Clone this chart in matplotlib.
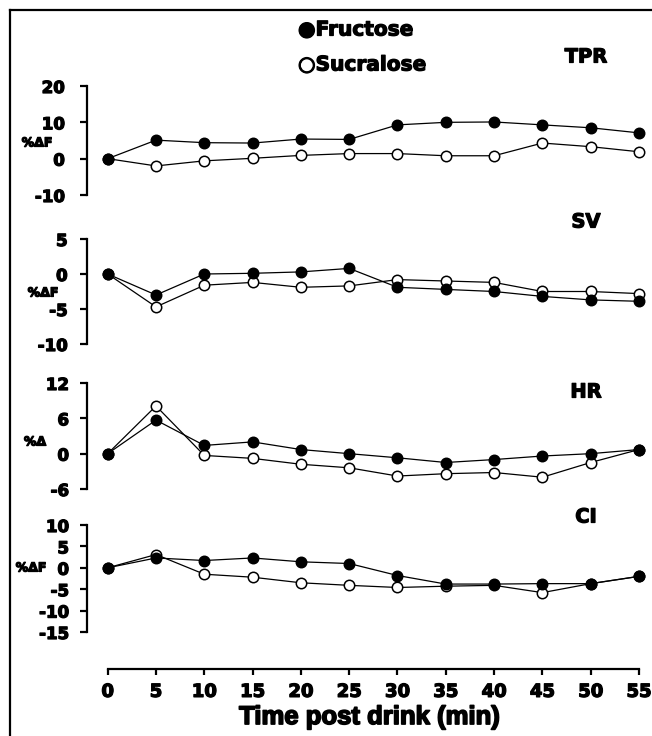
import matplotlib
matplotlib.use("Agg")
import matplotlib.pyplot as plt
import matplotlib.patheffects as pe
from matplotlib.lines import Line2D

plt.rcParams['font.family'] = ['DejaVu Sans']
plt.rcParams['font.weight'] = 'bold'
plt.rcParams['axes.unicode_minus'] = False

# % change from baseline after each drink
minutes = [0, 5, 10, 15, 20, 25, 30, 35, 40, 45, 50, 55]

tpr_fru = [0, 5.1, 4.4, 4.3, 5.4, 5.3, 9.3, 10.0, 10.1, 9.3, 8.5, 7.1]
tpr_suc = [0, -2.0, -0.6, 0.1, 0.9, 1.4, 1.4, 0.8, 0.8, 4.3, 3.3, 1.9]

sv_fru = [0, -3.0, 0.0, 0.1, 0.3, 0.8, -1.9, -2.2, -2.5, -3.2, -3.7, -3.9]
sv_suc = [0, -4.7, -1.6, -1.2, -1.9, -1.7, -0.8, -1.0, -1.2, -2.5, -2.5, -2.8]

hr_fru = [0, 5.7, 1.4, 2.0, 0.7, 0.0, -0.7, -1.5, -1.0, -0.4, 0.0, 0.7]
hr_suc = [0, 8.1, -0.3, -0.8, -1.8, -2.4, -3.8, -3.4, -3.2, -4.0, -1.5, 0.7]

ci_fru = [0, 2.3, 1.7, 2.3, 1.4, 1.0, -1.8, -3.8, -3.8, -3.7, -3.7, -2.0]
ci_suc = [0, 3.1, -1.5, -2.2, -3.5, -4.1, -4.6, -4.3, -4.1, -5.8, -3.7, -2.0]

tpr_ticks = [20, 10, 0, -10]
sv_ticks = [5, 0, -5, -10]
hr_ticks = [12, 6, 0, -6]
ci_ticks = [10, 5, 0, -5, -10, -15]

W, H = 652, 736
heavy = [pe.withStroke(linewidth=0.9, foreground='black')]

fig = plt.figure(figsize=(W / 100, H / 100), dpi=100)


def box(left, top, right, bottom):
    return [left / W, 1 - bottom / H, (right - left) / W, (bottom - top) / H]


def lims(lo_px, hi_px, v_hi, p_hi, v_lo, p_lo):
    k = (p_lo - p_hi) / (v_hi - v_lo)
    return v_lo - (lo_px - p_lo) / k, v_hi + (p_hi - hi_px) / k


# x scale: 0 min at x=107.7 px, 55 min at x=639 px
k_x = (639 - 107.7) / 55
x_left = 87
xlim = (-(107.7 - x_left) / k_x, (W - 107.7) / k_x)

panels = [
    # name, fructose, sucralose, ticks, px of top/bottom tick, box top/bottom, ylabel, label pos, pad
    ('TPR', tpr_fru, tpr_suc, tpr_ticks, 86, 195, 60, 215, '%ΔF', (37, 143), 11),
    ('SV', sv_fru, sv_suc, sv_ticks, 239, 344, 220, 360, '%ΔF', (43, 293), 9),
    ('HR', hr_fru, hr_suc, hr_ticks, 383, 489, 365, 500, '%Δ', (35, 442), 8),
    ('CI', ci_fru, ci_suc, ci_ticks, 525, 632, 505, 669, '%ΔF', (31, 568), 8),
]
label_y = {'TPR': 57, 'SV': 222, 'HR': 392, 'CI': 517}

for name, fru, suc, ticks, p_hi, p_lo, top, bottom, ylab, ylab_pos, pad in panels:
    ax = fig.add_axes(box(x_left, top, W, bottom))
    ax.patch.set_visible(False)
    ax.set_xlim(*xlim)
    ax.set_ylim(*lims(bottom, top, ticks[0], p_hi, ticks[-1], p_lo))
    for s in ['top', 'right']:
        ax.spines[s].set_visible(False)
    ax.spines['left'].set_linewidth(1.6)
    ax.spines['left'].set_bounds(ticks[-1], ticks[0])
    ax.set_yticks(ticks)
    ax.tick_params(axis='y', direction='out', length=5, width=1.6, pad=pad, labelsize=12)
    for t in ax.get_yticklabels():
        t.set_fontweight('bold')
        t.set_path_effects(heavy)

    if name == 'CI':
        ax.spines['bottom'].set_linewidth(1.6)
        ax.spines['bottom'].set_bounds(0, 55)
        ax.set_xticks(minutes)
        ax.tick_params(axis='x', direction='out', length=4, width=1.6, pad=6, labelsize=13)
        for t in ax.get_xticklabels():
            t.set_fontweight('bold')
            t.set_path_effects(heavy)
        ax.set_xlabel('Time post drink (min)', fontsize=18.5, fontweight='bold',
                      family='Liberation Sans', labelpad=3,
                      path_effects=[pe.withStroke(linewidth=1.2, foreground='black')])
    else:
        ax.spines['bottom'].set_visible(False)
        ax.set_xticks([])

    ax.plot(minutes, suc, '-o', color='black', lw=0.9, ms=7.5, mfc='white',
            mec='black', mew=1.1, clip_on=False, zorder=3)
    ax.plot(minutes, fru, '-o', color='black', lw=0.9, ms=7.5, mfc='black',
            mec='black', mew=1.1, clip_on=False, zorder=4)

    fig.text(586 / W, 1 - label_y[name] / H, name, ha='center', va='center',
             fontsize=14, fontweight='bold', path_effects=heavy)
    fig.text(ylab_pos[0] / W, 1 - ylab_pos[1] / H, ylab, ha='center', va='center',
             fontsize=9, fontweight='bold', path_effects=heavy)

# legend text at the top
fig.text(298 / W, 1 - 30 / H, '●Fructose', ha='left', va='center',
         fontsize=14.5, fontweight='bold', path_effects=heavy)
fig.text(298 / W, 1 - 65 / H, '○Sucralose', ha='left', va='center',
         fontsize=14.5, fontweight='bold', path_effects=heavy)

# outer frame (top and left edges)
fig.add_artist(Line2D([10 / W, 10 / W], [0, 1 - 10 / H], transform=fig.transFigure,
                      color='black', lw=1.6))
fig.add_artist(Line2D([10 / W, 1], [1 - 10 / H, 1 - 10 / H], transform=fig.transFigure,
                      color='black', lw=1.6))

fig.savefig('out.png', dpi=100)
